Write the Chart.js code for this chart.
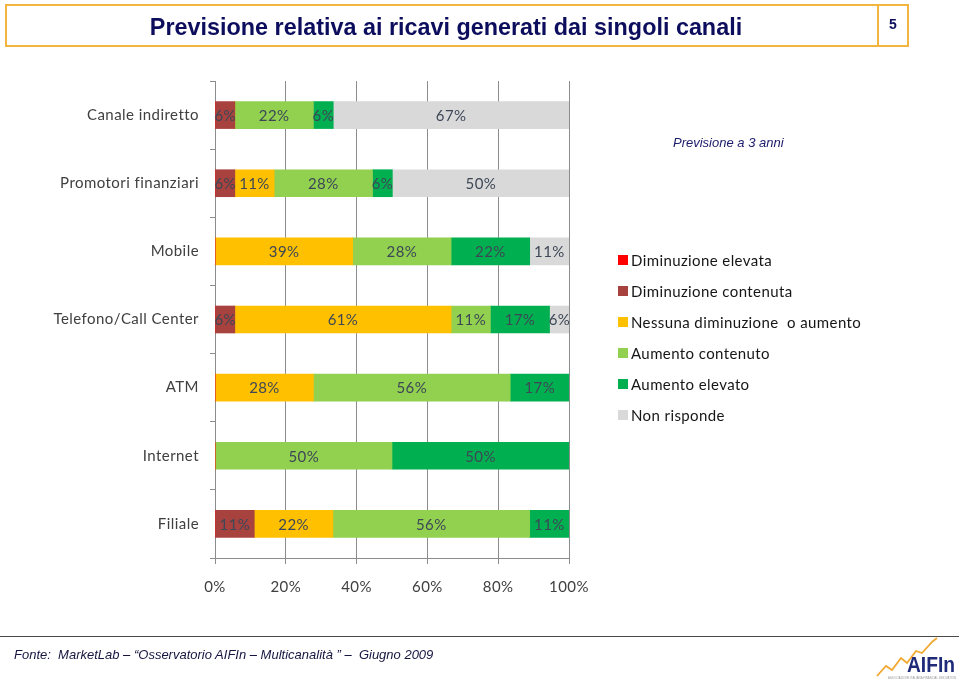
<!DOCTYPE html>
<html><head><meta charset="utf-8">
<script src="https://cdn.jsdelivr.net/npm/chart.js@4.4.0/dist/chart.umd.min.js"></script>
<style>
html,body{margin:0;padding:0;background:#fff;}
body{width:959px;height:682px;position:relative;overflow:hidden;font-family:Lato,"Open Sans",sans-serif;}
#c{position:absolute;left:0;top:0;}
.abs{position:absolute;white-space:pre;}
#box{left:5px;top:4px;width:900px;height:39px;border:2px solid #F2B640;}
#divider{left:877px;top:4px;width:2px;height:43px;background:#F2B640;}
#title{left:446px;top:13px;line-height:24px;font:bold 24px "Liberation Sans Narrow","Arial Narrow","Liberation Sans",Arial,sans-serif;color:#0D0D5E;transform-origin:center center;}
#pnum{left:886px;top:16px;width:14px;text-align:center;font:bold 14px "Liberation Sans",Arial,sans-serif;color:#0D0D5E;}
#sub{left:673px;top:135px;font:italic 13px "Liberation Sans",Arial,sans-serif;color:#1B1B6B;}
#legend{left:618px;top:0;}
.lg{position:absolute;left:0;height:20px;}
.sw{position:absolute;left:0;top:5px;width:10px;height:10px;}
.lt{position:absolute;left:13px;top:0;line-height:20px;font-size:15px;letter-spacing:0.4px;color:#161616;white-space:pre;font-family:Lato,sans-serif;}
#rule{left:0;top:636px;width:959px;height:1px;background:#4a4a4a;}
#src{left:14px;top:647px;font:italic 13px "Liberation Sans",Arial,sans-serif;color:#151540;}
#logo{left:874px;top:636px;}
</style>
</head><body>
<canvas id="c" width="959" height="682"></canvas>
<div class="abs" id="box"></div>
<div class="abs" id="divider"></div>
<div class="abs" id="title">Previsione relativa ai ricavi generati dai singoli canali</div>
<div class="abs" id="pnum">5</div>
<div class="abs" id="sub">Previsione a 3 anni</div>
<div class="abs" id="legend"></div>
<div class="abs" id="rule"></div>
<div class="abs" id="src">Fonte:  MarketLab – “Osservatorio AIFIn – Multicanalità ” –  Giugno 2009</div>
<svg class="abs" id="logo" width="85" height="46" viewBox="0 0 85 46">
  <polyline points="3,40 12,30 18,34 27,22 33,27 42,15 48,17 58,6 63,2" fill="none" stroke="#F0A830" stroke-width="1.8"/>
  <text x="33" y="36" textLength="48" lengthAdjust="spacingAndGlyphs" font-family="Liberation Sans Narrow, Liberation Sans, Arial" font-weight="bold" font-size="22" fill="#1F2A78">AIFIn</text>
  <text x="14" y="43" textLength="68" lengthAdjust="spacingAndGlyphs" font-family="Liberation Sans, Arial" font-size="3.5" fill="#999">ASSOCIAZIONE ITALIANA FINANCIAL INNOVATION</text>
</svg>
<script>
const categories = ['Canale indiretto','Promotori finanziari','Mobile','Telefono/Call Center','ATM','Internet','Filiale'];
const seriesNames = ['Diminuzione elevata','Diminuzione contenuta','Nessuna diminuzione  o aumento','Aumento contenuto','Aumento elevato','Non risponde'];
const diminuzioneElevata   = [0, 0, 0, 0, 0, 0, 0];
const diminuzioneContenuta = [5.6, 5.6, 0, 5.6, 0, 0, 11.1];
const nessunaVariazione    = [0, 11.1, 38.9, 61.1, 27.8, 0, 22.2];
const aumentoContenuto     = [22.2, 27.8, 27.8, 11.1, 55.6, 50, 55.6];
const aumentoElevato       = [5.6, 5.6, 22.2, 16.7, 16.7, 50, 11.1];
const nonRisponde          = [66.6, 50, 11.1, 5.6, 0, 0, 0];
const xTickValues = [0, 20, 40, 60, 80, 100];

const seriesValues = [diminuzioneElevata, diminuzioneContenuta, nessunaVariazione, aumentoContenuto, aumentoElevato, nonRisponde];
const seriesColors = ['#FF0000','#A8423F','#FFC000','#92D050','#00B050','#D9D9D9'];

// title width fit
const t = document.getElementById('title');
const w = t.offsetWidth;
t.style.transform = 'translateX(-50%) scaleX(' + (592 / w) + ')';

// legend
const lg = document.getElementById('legend');
seriesNames.forEach((n, i) => {
  const row = document.createElement('div');
  row.className = 'lg';
  row.style.top = (250 + i * 31) + 'px';
  row.innerHTML = '<div class="sw" style="background:' + seriesColors[i] + '"></div><div class="lt">' + n + '</div>';
  lg.appendChild(row);
});

const spacing = {
  id: 'spacing',
  beforeDraw(chart) { chart.ctx.letterSpacing = '0.45px'; }
};

const valueLabels = {
  id: 'valueLabels',
  afterDatasetsDraw(chart) {
    const ctx = chart.ctx;
    ctx.save();
    ctx.letterSpacing = '0.4px';
    ctx.font = '15px Lato, sans-serif';
    ctx.fillStyle = '#3d4756';
    ctx.textAlign = 'center';
    ctx.textBaseline = 'middle';
    chart.data.datasets.forEach((ds, i) => {
      const meta = chart.getDatasetMeta(i);
      meta.data.forEach((el, j) => {
        const v = ds.data[j];
        if (!v) return;
        ctx.fillText(Math.round(v) + '%', (el.x + el.base) / 2, el.y + 1);
      });
    });
    ctx.restore();
  }
};

const gridColor = '#8c8c8c';
new Chart(document.getElementById('c'), {
  type: 'bar',
  data: {
    labels: categories,
    datasets: seriesNames.map((n, i) => ({
      label: n,
      data: seriesValues[i],
      backgroundColor: seriesColors[i],
      borderWidth: 0,
      barThickness: 27
    }))
  },
  options: {
    indexAxis: 'y',
    responsive: false,
    animation: false,
    devicePixelRatio: 1,
    layout: { padding: { top: 81, right: 390, bottom: 84, left: 0 } },
    plugins: { legend: { display: false }, tooltip: { enabled: false } },
    scales: {
      x: {
        stacked: true, min: 0, max: 100,
        afterBuildTicks: s => { s.ticks = xTickValues.map(v => ({ value: v })); },
        afterFit: s => { s.height = 40; },
        grid: { color: gridColor, lineWidth: 1, tickLength: 6 },
        border: { color: gridColor },
        ticks: { callback: v => v + '%', padding: 14, color: '#404040', font: { family: 'Lato', size: 15 } }
      },
      y: {
        stacked: true,
        afterFit: s => { s.width = 215; },
        grid: { drawOnChartArea: false, drawTicks: true, tickLength: 5, color: gridColor, offset: true },
        border: { color: gridColor },
        ticks: { padding: 11, color: '#404040', font: { family: 'Lato', size: 15 } }
      }
    }
  },
  plugins: [spacing, valueLabels]
});
</script>
</body></html>
